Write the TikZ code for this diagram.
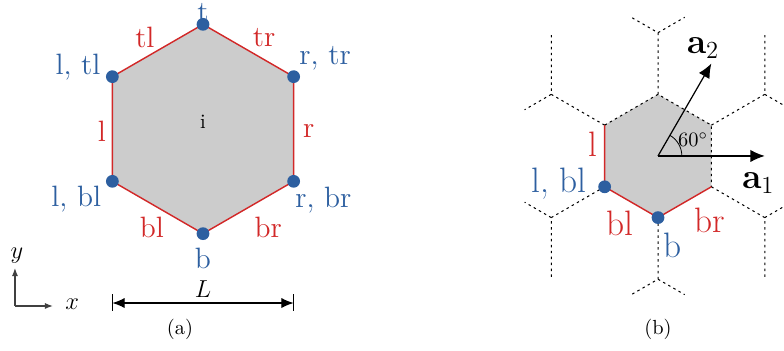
\documentclass[tikz,border=0pt]{standalone}
\usepackage{amsmath}
\usetikzlibrary{arrows.meta, calc}
\definecolor{edgered}{RGB}{210,40,40}
\definecolor{nodeblue}{RGB}{45,95,160}
\definecolor{cellgray}{RGB}{204,204,204}
\tikzset{
  edgelbl/.style={text=edgered, inner sep=1pt},
  vtxlbl/.style={text=nodeblue, inner sep=1pt},
  vtxdot/.style={circle, fill=nodeblue, inner sep=0pt, minimum size=0.22cm},
  celledge/.style={draw=edgered, line width=0.7pt},
  lattice/.style={black, line width=0.5pt, dash pattern=on 1.2pt off 1.7pt},
  vecarrow/.style={black, semithick, -{Latex[length=7pt,width=6pt]}},
  dimarrow/.style={black, semithick, {Latex[length=6pt,width=5pt]}-{Latex[length=6pt,width=5pt]}},
  axisarrow/.style={black!75, semithick, -{Latex[length=4pt,width=3pt]}}
}

\begin{document}
\begin{tikzpicture}

\useasboundingbox (-3.4916,-3.8184) rectangle (9.993,2.2188);
\clip (-3.4916,-3.8184) rectangle (9.993,2.2188);

% ── (a) single cell ─────────────────────────────────────────────
\foreach \v/\ang in {t/90, tr/30, br/-30, b/-90, bl/-150, tl/150}
  \coordinate (a\v) at (\ang:1.8);
\filldraw[celledge, fill=cellgray]
  (at) -- (atr) -- (abr) -- (ab) -- (abl) -- (atl) -- cycle;
\foreach \v in {t, tr, br, b, bl, tl}
  \node[vtxdot] (dot\v) at (a\v) {};

\node (lbli) at (0,0.12) {i};

% edge labels
\node[edgelbl, font=\Large] (etl) at (-1.0,1.58) {tl};
\node[edgelbl, font=\Large] (etr) at (1.05,1.58) {tr};
\node[edgelbl, font=\Large] (el)  at (-1.74,-0.04) {l};
\node[edgelbl, font=\Large] (er)  at (1.82,-0.03) {r};
\node[edgelbl, font=\Large] (ebl) at (-0.88,-1.69) {bl};
\node[edgelbl, font=\Large] (ebr) at (1.12,-1.69) {br};

% vertex labels
\node[vtxlbl, font=\Large, inner sep=0pt] (vt) at (0,2.0) {t};
\node[vtxlbl, font=\Large] (vb)  at (0,-2.22) {b};
\node[vtxlbl, font=\Large] (vtl) at (-2.15,1.06) {l, tl};
\node[vtxlbl, font=\Large] (vtr) at (2.1,1.22) {r, tr};
\node[vtxlbl, font=\Large] (vbl) at (-2.18,-1.2) {l, bl};
\node[vtxlbl, font=\Large] (vbr) at (2.07,-1.23) {r, br};

% axes
\coordinate (orig) at (-3.234,-3.044);
\coordinate (ytip) at (-3.234,-2.39);
\coordinate (xtip) at (-2.58,-3.044);
\draw[axisarrow] (orig) -- (ytip);
\draw[axisarrow] (orig) -- (xtip);
\node[font=\large] (ylbl) at (-3.2,-2.17) {$y$};
\node[font=\large] (xlbl) at (-2.25,-3.02) {$x$};

% width L
\coordinate (dl) at (-1.559,-2.993);
\coordinate (dr) at (1.559,-2.993);
\draw[dimarrow] (dl) -- (dr);
\draw[black, semithick] ($(dl)+(0,0.15)$) -- ($(dl)+(0,-0.14)$);
\draw[black, semithick] ($(dr)+(0,0.15)$) -- ($(dr)+(0,-0.14)$);
\node[font=\large] (Llbl) at (0,-2.76) {$L$};

\node (capa) at (-0.396,-3.44) {(a)};

% ── (b) cell in the lattice ─────────────────────────────────────
\begin{scope}[shift={(7.826,-0.464)}]
  \coordinate (c) at (0,0);
  \foreach \v/\ang in {t/90, tr/30, br/-30, b/-90, bl/-150, tl/150}
    \coordinate (b\v) at (\ang:1.06);
  \fill[cellgray] (bt) -- (btr) -- (bbr) -- (bb) -- (bbl) -- (btl) -- cycle;

  % neighbouring cells
  \draw[lattice] (btl) -- (bt) -- (btr) -- (bbr);
  \draw[lattice] (bt) -- (0,2.12) coordinate (nt) -- ++(-0.459,0.265);
  \draw[lattice] (nt) -- ++(0.459,0.265);
  \draw[lattice] (bb) -- (0,-2.12) coordinate (nb) -- ++(-0.459,-0.265);
  \draw[lattice] (nb) -- ++(0.459,-0.265);
  \draw[lattice] (btr) -- (1.836,1.06) coordinate (ntr) -- (1.836,2.12);
  \draw[lattice] (ntr) -- ++(0.918,-0.53);
  \draw[lattice] (btl) -- (-1.836,1.06) coordinate (ntl) -- (-1.836,2.12);
  \draw[lattice] (ntl) -- ++(-0.459,-0.265);
  \draw[lattice] (bbl) -- (-1.836,-1.06) coordinate (nbl) -- (-1.836,-2.12);
  \draw[lattice] (nbl) -- ++(-0.459,0.265);
  \draw[lattice] (bbr) -- (1.836,-1.06) coordinate (nbr) -- (1.836,-2.12);
  \draw[lattice] (nbr) -- ++(0.918,0.53);

  % own edges
  \draw[celledge] (btl) -- (bbl) -- (bb) -- (bbr);
  \node[vtxdot] (dotbbl) at (bbl) {};
  \node[vtxdot] (dotbb) at (bb) {};

  % lattice vectors
  \coordinate (a1tip) at (0:1.836);
  \coordinate (a2tip) at (60:1.836);
  \draw[vecarrow] (c) -- (a1tip);
  \draw[vecarrow] (c) -- (a2tip);
  \draw[black, thin] (0.41,0) arc (0:60:0.41);
\end{scope}

\node (ang) at (8.43,-0.19) {60$^\circ$};
\node[font=\LARGE] (a1lbl) at (9.55,-0.93) {$\mathbf{a}_1$};
\node[font=\LARGE] (a2lbl) at (8.6,1.39) {$\mathbf{a}_2$};

\node[edgelbl, font=\LARGE] (bel)  at (6.71,-0.26) {l};
\node[edgelbl, font=\LARGE] (bebl) at (7.17,-1.63) {bl};
\node[edgelbl, font=\LARGE] (bebr) at (8.72,-1.58) {br};
\node[vtxlbl, font=\LARGE] (bvbl) at (6.12,-0.94) {l, bl};
\node[vtxlbl, font=\LARGE] (bvb)  at (8.07,-2.01) {b};

\node (capb) at (7.826,-3.44) {(b)};

\end{tikzpicture}
\end{document}
